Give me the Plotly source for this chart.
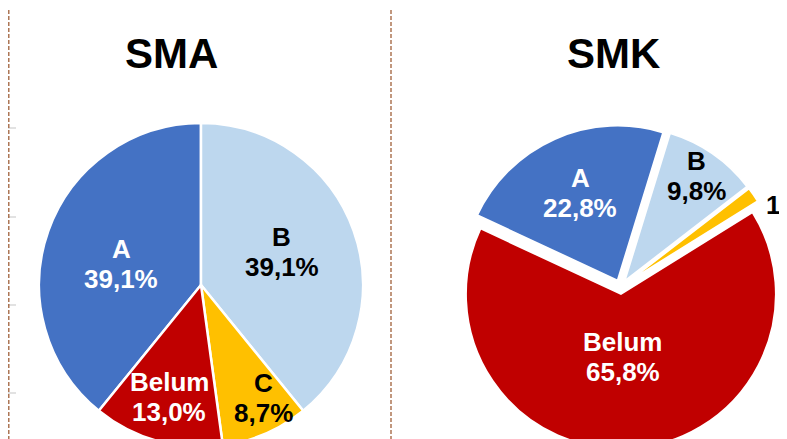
import math
import plotly.graph_objects as go

categories = ["A", "B", "C", "Belum"]
sma_values = [39.1, 39.1, 8.7, 13.0]
smk_values = [22.8, 9.8, 1.6, 65.8]
titles = ["SMA", "SMK"]

slice_colors = ["#4472C4", "#BDD7EE", "#FFC000", "#C00000"]
text_colors = ["white", "black", "black", "white"]
FONT = "Liberation Sans, Arial, sans-serif"

# page is offset by the 8px body margin; paper is taller than the window
W, H = 787, 480

# pie geometry (paper pixels, top-down)
SMA_C, SMA_R = (193, 277), 162
SMK_C, SMK_R, SMK_ROT, SMK_PULL = (612.5, 279), 155, -65, 0.045

# label placement: radial fraction and angle nudge (deg) per slice
SMA_LAB_F, SMA_LAB_DT = [0.51, 0.54, 0.80, 0.72], [-4.8, -2.7, -5.6, 0.0]
SMK_LAB_F, SMK_LAB_DT = [0.615, 0.82, 1.245, 0.41], [0.7, -0.4, 5.7, 1.8]

LABEL_SIZE = 26
LINE_GAP = 15


def pct(v):
    return f"{v:.1f}".replace(".", ",") + "%"


def domain_for(center, r, pull=0.0):
    half = r * (1 + pull)
    cx, cy = center
    return dict(x=[(cx - half) / W, (cx + half) / W],
                y=[(H - (cy + half)) / H, (H - (cy - half)) / H])


def slice_mids(values, rotation):
    tot = sum(values)
    a = rotation
    mids = []
    for v in values:
        span = v / tot * 360
        mids.append(a + span / 2)
        a += span
    return mids


sma_rotation = -(sma_values[0] / sum(sma_values) * 360)

fig = go.Figure()

fig.add_trace(go.Pie(
    labels=categories, values=sma_values, sort=False, direction="clockwise",
    rotation=sma_rotation, textinfo="none",
    marker=dict(colors=slice_colors, line=dict(color="white", width=2.5)),
    domain=domain_for(SMA_C, SMA_R),
    showlegend=False, hoverinfo="label+percent",
))

fig.add_trace(go.Pie(
    labels=categories, values=smk_values, sort=False, direction="clockwise",
    rotation=SMK_ROT, textinfo="none",
    pull=[SMK_PULL] * len(smk_values),
    marker=dict(colors=slice_colors, line=dict(color="white", width=2)),
    domain=domain_for(SMK_C, SMK_R, SMK_PULL),
    showlegend=False, hoverinfo="label+percent",
))


def add_labels(values, rotation, center, r, fracs, dts, pull=0.0):
    mids = slice_mids(values, rotation)
    for cat, v, m, f, dt, col in zip(categories, values, mids, fracs, dts, text_colors):
        ang = math.radians(m + dt)
        dist = r * f + r * pull
        lx = center[0] + dist * math.sin(ang)
        ly = center[1] - dist * math.cos(ang)
        lines = [(cat, -LINE_GAP), (pct(v), LINE_GAP)]
        if f > 1:
            # outside label at the window edge: only its value line is in view
            col = "black"
            lines = lines[1:]
        for txt, dy in lines:
            fig.add_annotation(
                text=txt, x=lx / W, y=(H - (ly + dy)) / H, xref="paper", yref="paper",
                xanchor="center", yanchor="middle", showarrow=False,
                font=dict(family=FONT, size=LABEL_SIZE, color=col, weight="bold"),
            )


add_labels(sma_values, sma_rotation, SMA_C, SMA_R, SMA_LAB_F, SMA_LAB_DT)
add_labels(smk_values, SMK_ROT, SMK_C, SMK_R, SMK_LAB_F, SMK_LAB_DT, SMK_PULL)

for title, xc in zip(titles, [163, 605.5]):
    fig.add_annotation(
        text=title, x=xc / W, y=(H - 45) / H, xref="paper", yref="paper",
        xanchor="center", yanchor="middle", showarrow=False,
        font=dict(family=FONT, size=42, color="black", weight="bold"),
    )

shapes = []
for ty in [120, 209, 297, 385]:
    shapes.append(dict(type="line", xref="paper", yref="paper",
                       x0=0, x1=8 / W, y0=(H - ty) / H, y1=(H - ty) / H,
                       line=dict(color="#d9d9d9", width=1.5)))
for lx in [0.8, 383]:
    shapes.append(dict(type="line", xref="paper", yref="paper",
                       x0=lx / W, x1=lx / W, y0=0, y1=1,
                       line=dict(color="#a0603a", width=1.3, dash="4px,2px")))

fig.update_layout(
    width=W, height=H,
    margin=dict(l=0, r=0, t=0, b=0),
    paper_bgcolor="white", plot_bgcolor="white",
    shapes=shapes,
    font=dict(family=FONT),
)

fig.write_html("out.html")
